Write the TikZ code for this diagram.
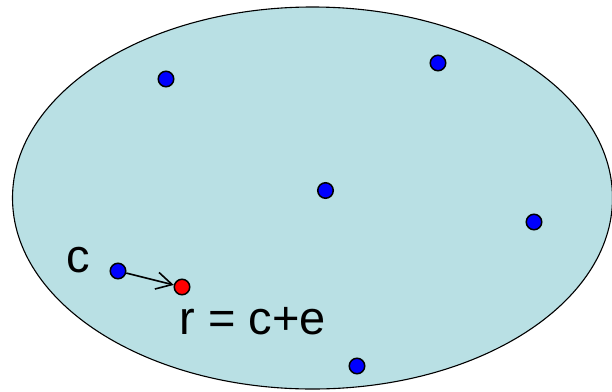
\documentclass[tikz,border=0pt]{standalone}
\usepackage{fontspec}
\setmainfont{Liberation Sans}
\usepackage{tikz}
\usetikzlibrary{arrows.meta, positioning}
\definecolor{regionfill}{HTML}{B9E0E4}

\begin{document}
\begin{tikzpicture}[
    x=1pt, y=-1pt,
    pt/.style={circle, draw, line width=1.5pt, fill=blue, minimum size=15.5pt, inner sep=0pt},
    hit/.style={pt, fill=red},
    lbl/.style={font=\fontsize{47}{50}\selectfont, inner sep=0pt},
    arr/.style={-{Straight Barb[length=5.5mm, width=6mm, line width=1.6pt]}, line width=1.6pt},
]
\useasboundingbox (0,0) rectangle (612,391);
\filldraw[fill=regionfill, draw=black, line width=1.1pt] (312.5,198) ellipse [x radius=300, y radius=191];

\node[pt] (p1) at (166,79) {};
\node[pt] (p2) at (438,63) {};
\node[pt] (p3) at (325.5,190.5) {};
\node[pt] (p4) at (534,222) {};
\node[pt] (p5) at (357,366) {};
\node[pt] (code) at (118,271) {};
\node[hit] (recv) at (182,287) {};

\node[lbl, anchor=base] (clabel) at (78,272) {c};
\node[lbl, anchor=base] (rlabel) at (252.5,334) {r = c+e};

\draw[arr] (code) -- (recv);
\end{tikzpicture}
\end{document}
